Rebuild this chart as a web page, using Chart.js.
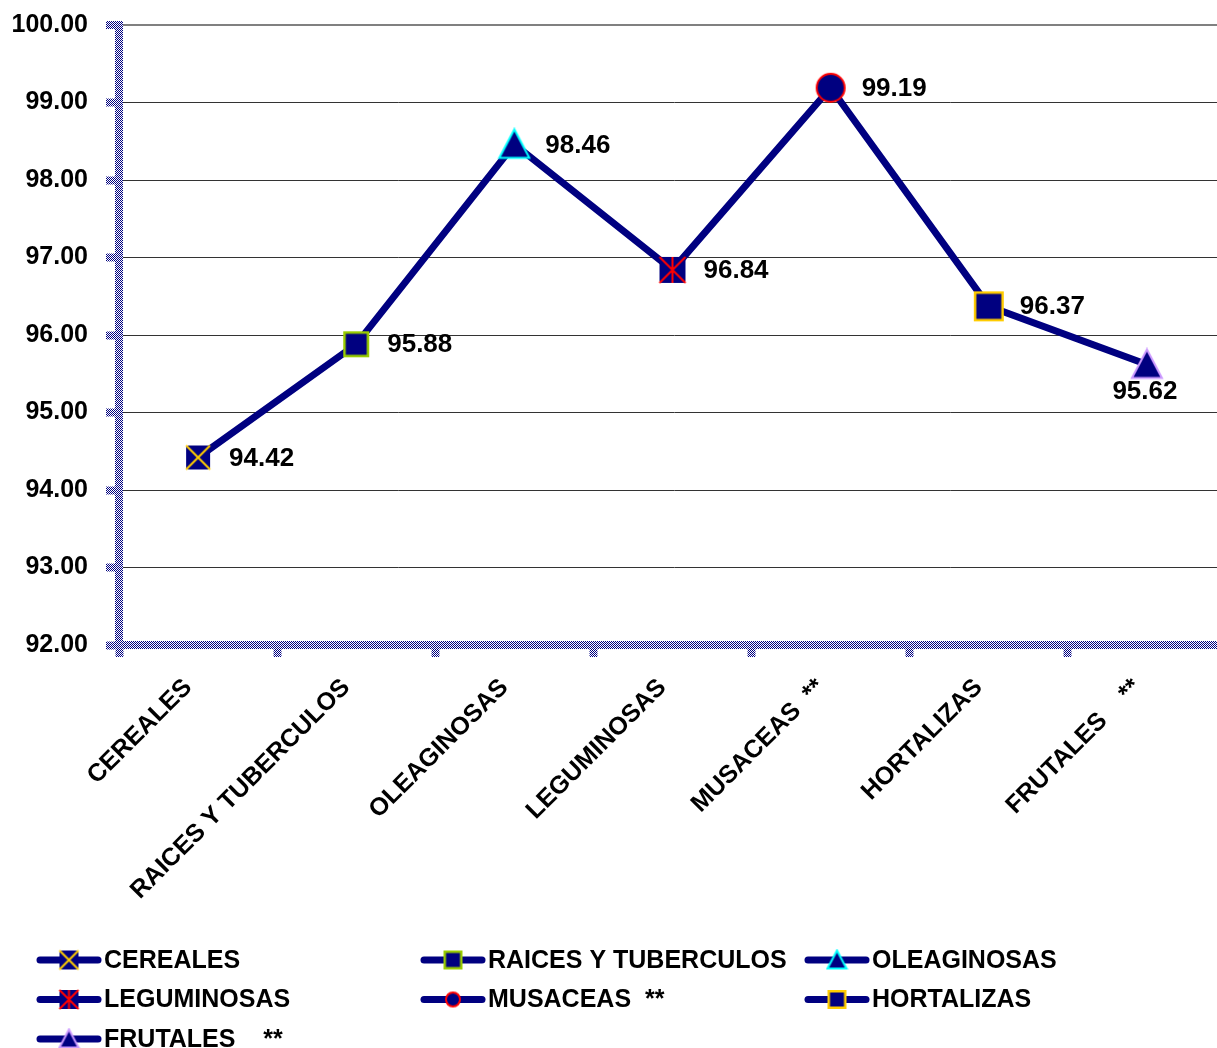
<!DOCTYPE html>
<html>
<head>
<meta charset="utf-8">
<script src="https://cdn.jsdelivr.net/npm/chart.js@4.4.1/dist/chart.umd.min.js"></script>
<style>
  html, body { margin: 0; padding: 0; background: #fff; overflow: hidden; }
</style>
</head>
<body>
<canvas id="rendimiento" width="1248" height="1048"></canvas>
<script>
const categories = ['CEREALES', 'RAICES Y TUBERCULOS', 'OLEAGINOSAS', 'LEGUMINOSAS', 'MUSACEAS  **', 'HORTALIZAS', 'FRUTALES    **'];
const values = [94.42, 95.88, 98.46, 96.84, 99.19, 96.37, 95.62];
const yMin = 92, yMax = 100, yStep = 1;

// marker look per category (excel "vary colors by point")
const markerKinds = ['x', 'square', 'triangle', 'star', 'circle', 'square', 'triangle'];
const markerEdges = ['#ffcc00', '#99cc00', '#00ffff', '#ff0000', '#ff0000', '#ffcc00', '#cc99ff'];
const markerSizes = [24, 26, 30, 26, 30, 30, 30];

const NAVY = '#000080';
const FONT = '"Liberation Sans", Arial, sans-serif';

function marker(kind, edge, size) {
  const c = document.createElement('canvas');
  c.width = c.height = size + 4;
  const g = c.getContext('2d');
  const m = c.width / 2, h = size / 2;
  g.fillStyle = NAVY;
  g.strokeStyle = edge;
  g.lineWidth = 2;
  if (kind === 'circle') {
    g.beginPath(); g.arc(m, m, h - 1, 0, Math.PI * 2); g.fill(); g.stroke();
  } else if (kind === 'triangle') {
    g.beginPath(); g.moveTo(m, m - h); g.lineTo(m + h, m + h * 0.9); g.lineTo(m - h, m + h * 0.9); g.closePath();
    g.fill(); g.stroke();
  } else {
    g.fillRect(m - h, m - h, size, size);
    if (kind === 'square') {
      g.lineWidth = 2.5;
      g.strokeRect(m - h + 1.25, m - h + 1.25, size - 2.5, size - 2.5);
    } else {
      g.beginPath();
      g.moveTo(m - h, m - h); g.lineTo(m + h, m + h);
      g.moveTo(m + h, m - h); g.lineTo(m - h, m + h);
      if (kind === 'star') { g.moveTo(m, m - h); g.lineTo(m, m + h); }
      g.stroke();
    }
  }
  return c;
}

const chartMarkers = categories.map((_, i) => marker(markerKinds[i], markerEdges[i], markerSizes[i]));
const legendMarkers = categories.map((_, i) => marker(markerKinds[i], markerEdges[i], markerKinds[i] === 'circle' ? 16 : 19));

// dithered blue of the old axis lines
const pc = document.createElement('canvas');
pc.width = pc.height = 2;
const pg = pc.getContext('2d');
pg.fillStyle = '#ffffff'; pg.fillRect(0, 0, 2, 2);
pg.fillStyle = NAVY; pg.fillRect(0, 0, 1, 1); pg.fillRect(1, 1, 1, 1);
const axisPattern = pg.createPattern(pc, 'repeat');

const valueLabels = {
  id: 'valueLabels',
  afterDatasetsDraw(chart) {
    const ctx = chart.ctx;
    const meta = chart.getDatasetMeta(0);
    ctx.save();
    ctx.font = 'bold 26px ' + FONT;
    ctx.fillStyle = '#000';
    ctx.textBaseline = 'middle';
    meta.data.forEach((pt, i) => {
      const txt = values[i].toFixed(2);
      if (i === values.length - 1) {
        ctx.textAlign = 'center';
        ctx.fillText(txt, pt.x - 2, pt.y + 27);
      } else {
        ctx.textAlign = 'left';
        ctx.fillText(txt, pt.x + 31, pt.y + 1);
      }
    });
    ctx.restore();
  }
};

const columnLegend = {
  id: 'columnLegend',
  afterDraw(chart) {
    const ctx = chart.ctx;
    ctx.save();
    categories.forEach((name, i) => {
      const x = 37 + (i % 3) * 384;
      const y = 960 + Math.floor(i / 3) * 39.5;
      ctx.strokeStyle = NAVY;
      ctx.lineWidth = 7;
      ctx.lineCap = 'round';
      ctx.beginPath(); ctx.moveTo(x + 3, y); ctx.lineTo(x + 61, y); ctx.stroke();
      const img = legendMarkers[i];
      ctx.drawImage(img, x + 32 - img.width / 2, y - img.height / 2);
      ctx.fillStyle = '#000';
      ctx.font = 'bold 25px ' + FONT;
      ctx.textBaseline = 'middle';
      ctx.textAlign = 'left';
      ctx.fillText(name, x + 67, y + 1);
    });
    ctx.restore();
  }
};

Chart.defaults.font.family = FONT;
Chart.defaults.font.size = 25;
Chart.defaults.font.weight = 'bold';
Chart.defaults.color = '#000';

new Chart(document.getElementById('rendimiento'), {
  type: 'line',
  data: {
    labels: categories,
    datasets: [{
      data: values,
      borderColor: NAVY,
      borderWidth: 7,
      tension: 0,
      fill: false,
      pointStyle: chartMarkers,
      pointRadius: 15
    }]
  },
  options: {
    responsive: false,
    animation: false,
    layout: { padding: { top: 25, left: 0, right: 0, bottom: 0 } },
    plugins: { legend: { display: false }, tooltip: { enabled: false } },
    scales: {
      x: {
        offset: true,
        afterFit(scale) {
          scale.height = 1048 - 645;
          scale.paddingLeft = 0;
          scale.paddingRight = 0;
        },
        grid: { drawOnChartArea: false, tickLength: 12, tickWidth: 8, tickColor: axisPattern, offset: true },
        border: { color: axisPattern, width: 8 },
        ticks: { autoSkip: false, minRotation: 45, maxRotation: 45, padding: 16, labelOffset: -10 }
      },
      y: {
        min: yMin,
        max: yMax,
        afterFit(scale) {
          scale.width = 119;
          scale.paddingTop = 0;
          scale.paddingBottom = 0;
        },
        grid: {
          color: (c) => c.tick && c.tick.value === yMax ? '#808080' : '#333333',
          lineWidth: (c) => c.tick && c.tick.value === yMax ? 2 : 1,
          tickLength: 13, tickWidth: 8, tickColor: axisPattern
        },
        border: { color: axisPattern, width: 8 },
        ticks: { stepSize: yStep, padding: 18, callback: (v) => v.toFixed(2) }
      }
    }
  },
  plugins: [valueLabels, columnLegend]
});
</script>
</body>
</html>
